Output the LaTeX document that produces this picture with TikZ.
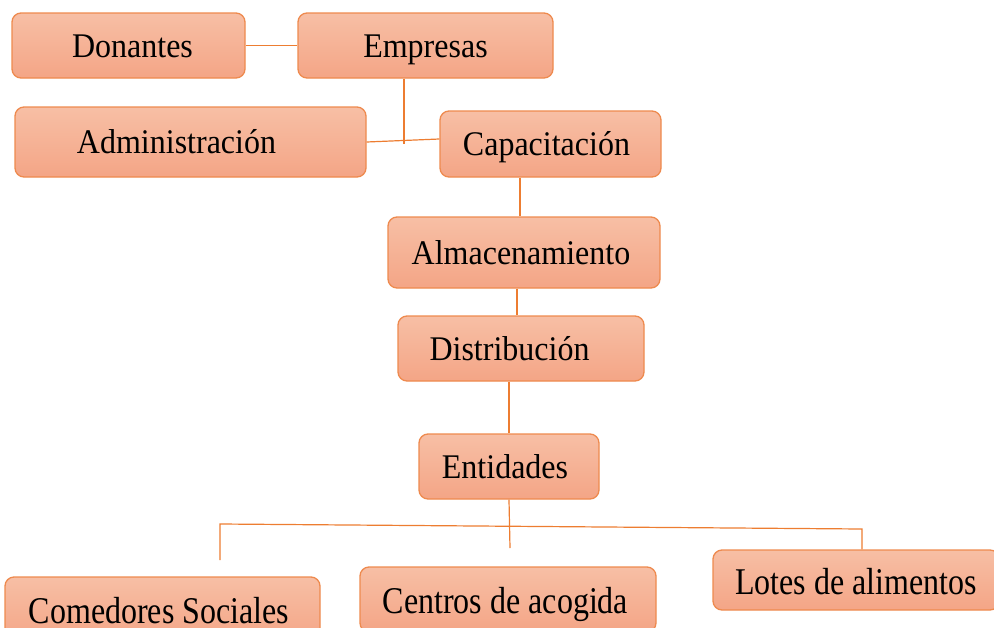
\documentclass[tikz,border=0pt]{standalone}
\usepackage{fontspec}
\setmainfont{Liberation Serif}
\usepackage{graphicx}
\usetikzlibrary{positioning, calc}
\definecolor{boxtop}{HTML}{F7BFA5}
\definecolor{boxbot}{HTML}{F4A586}
\definecolor{boxline}{HTML}{EE8A4E}
\definecolor{wire}{HTML}{ED7D31}
\newcommand{\tall}[1]{\scalebox{1}[1.08]{#1}}
\newcommand{\taller}[1]{\scalebox{1}[1.18]{#1}}

\begin{document}
\begin{tikzpicture}[x=1pt, y=-1pt,
        box/.style = {rectangle, rounded corners=9pt, draw=boxline, line width=1.3pt,
                      top color=boxtop, bottom color=boxbot, inner sep=0pt,
                      text height=24pt, text depth=1pt,
                      font=\fontsize{32}{36}\selectfont},
       lbox/.style = {box, text height=28pt, text depth=0pt},
       link/.style = {draw=wire, line width=1.2pt}
                        ]
\clip (0,0) rectangle (994,627);
\useasboundingbox (0,0) rectangle (994,627);
% upper part
\node (don) [box, minimum width=233pt, minimum height=65pt] at (128.5,45.5) {\hspace*{8pt}\tall{Donantes}};
\node (emp) [box, minimum width=255pt, minimum height=65pt] at (425.5,45.5) {\tall{Empresas}};
\node (adm) [box, minimum width=351pt, minimum height=70pt] at (190.5,142) {\tall{Administración}\hspace*{28pt}};
\node (cap) [box, minimum width=221pt, minimum height=66pt] at (550.5,144) {\tall{Capacitación}\hspace*{8pt}};
% middle column
\node (alm) [box, minimum width=272pt, minimum height=71pt] at (524,252.5) {\tall{Almacenamiento}\hspace*{6pt}};
\node (dis) [box, minimum width=246pt, minimum height=65pt] at (521,348.5) {\tall{Distribución}\hspace*{23pt}};
\node (ent) [box, minimum width=180pt, minimum height=65pt] at (509,466.5) {\tall{Entidades}\hspace*{8pt}};
% lower row
\node (com) [lbox, minimum width=315pt, minimum height=65pt] at (162.5,609.5) {\taller{Comedores Sociales}\hspace*{7pt}};
\node (cen) [lbox, minimum width=296pt, minimum height=65pt] at (508,599.5) {\taller{Centros de acogida}\hspace*{5pt}};
\node (lot) [lbox, minimum width=286pt, minimum height=60pt] at (856,580) {\taller{Lotes de alimentos}};
% junctions
\coordinate (jemp) at (404,144);
\coordinate (jent) at (510,548);
\coordinate (bl) at (220,524);
\coordinate (br) at (862,529);
\coordinate (lcom) at (220,560);
% connectors
\draw[link] (don) -- (emp);
\draw[link] (emp.south -| jemp) -- (jemp);
\draw[link] (adm.east) -- ([yshift=5pt]cap.west);
\draw[link] ([xshift=-4pt]alm.north |- cap.south) -- ([xshift=-4pt]alm.north);
\draw[link] ([xshift=-4pt]dis.north |- alm.south) -- ([xshift=-4pt]dis.north);
\draw[link] (ent.north |- dis.south) -- (ent.north);
\draw[link] (ent.south) -- (jent);
\draw[link] (lcom) -- (bl) -- (br) -- (br |- lot.north);
\end{tikzpicture}
\end{document}
